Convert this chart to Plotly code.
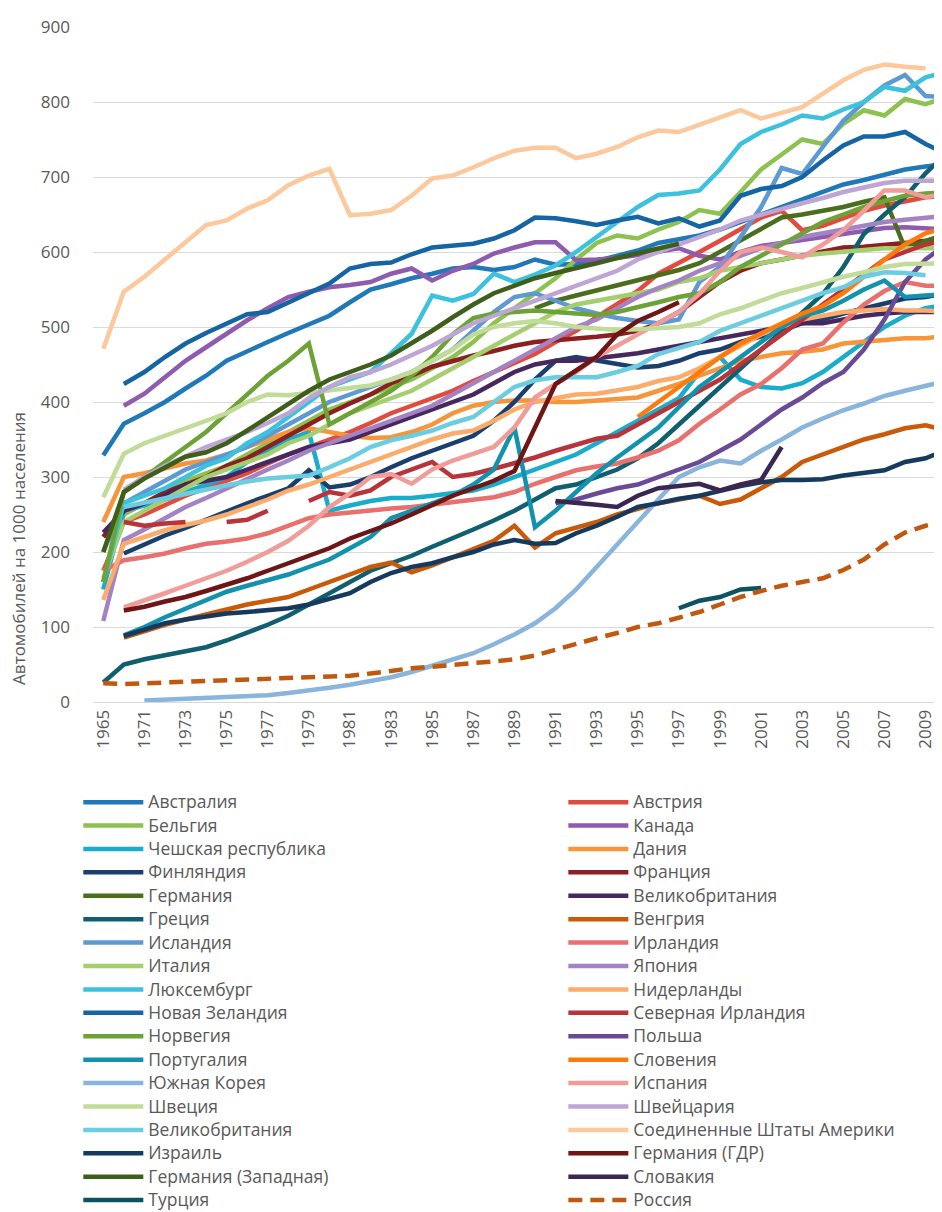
import plotly.graph_objects as go

# category axis: 1965, then 1970..2010
YEARS = ["1965"] + [str(y) for y in range(1970, 2011)]
TICK_YEARS = ["1965"] + [str(y) for y in range(1971, 2010, 2)]

N = None

AUSTRALIA = [329, 371, 385, 400, 418, 435, 455, 468, 480, 492, 504, 515, 533, 550, 557, 565, 571, 578, 580, 576, 580,
             590, 583, 584, 588, 595, 602, 612, 617, 622, 630, 640, 650, 660, 670, 680, 690, 696, 703, 710, 714, 717]
AUSTRIA = [175, 240, 250, 262, 275, 285, 295, 305, 318, 330, 340, 350, 360, 372, 385, 395, 405, 415, 428, 440, 452,
           464, 480, 495, 513, 530, 548, 571, 585, 600, 615, 630, 646, 655, 629, 635, 645, 655, 662, 668, 673, 675]
BELGIUM = [160, 250, 265, 280, 295, 305, 315, 330, 345, 360, 375, 390, 400, 410, 420, 430, 445, 460, 480, 505, 525,
           545, 565, 590, 612, 622, 618, 630, 640, 656, 651, 680, 710, 730, 750, 744, 771, 789, 782, 804, 797, 806]
CANADA = [N, 395, 411, 433, 455, 473, 491, 509, 525, 540, 547, 553, 556, 560, 571, 578, 562, 575, 584, 598, 606,
          613, 613, 589, 590, 592, 596, 600, 605, 595, 590, 600, 608, 612, 616, 620, 624, 628, 632, 633, 632, 630]
CZECH = [150, 255, 262, 270, 280, 290, 300, 320, 335, 350, 360, 255, 262, 268, 272, 272, 275, 278, 282, 290, 300,
         310, 320, 330, 345, 360, 375, 390, 405, 440, 460, 430, 420, 418, 425, 440, 460, 480, 500, 515, 525, 530]
DENMARK = [240, 300, 305, 312, 318, 322, 330, 340, 350, 360, 365, 360, 355, 352, 353, 360, 370, 385, 395, 400, 402,
           402, 400, 400, 402, 404, 406, 415, 424, 435, 445, 455, 460, 465, 467, 470, 478, 480, 483, 485, 485, 488]
FINLAND = [N, 198, 210, 222, 232, 243, 255, 265, 275, 285, 309, 286, 290, 300, 313, 325, 335, 345, 355, 375, 400,
           430, 455, 460, 455, 450, 446, 448, 455, 465, 470, 480, 488, 495, 505, 510, 518, 525, 532, 538, 540, 545]
FRANCE = [220, 255, 265, 280, 290, 300, 315, 325, 340, 355, 370, 385, 398, 410, 425, 435, 447, 455, 462, 468, 475,
          480, 482, 484, 487, 490, 495, 505, 520, 540, 560, 575, 585, 590, 595, 600, 606, 607, 609, 612, 615, 620]
GERMANY = [N] * 21 + [525, 535, 542, 549, 555, 562, 569, 576, 585, 600, 615, 630, 646, 650, 655, 660, 667, 673, 605,
                      615, 624]
UK_DARK = [226, 255, 265, 275, 290, 295, 300, 310, 320, 330, 340, 345, 350, 360, 370, 380, 390, 400, 410, 425, 440,
           450, 455, 455, 458, 462, 465, 470, 475, 480, 485, 490, 495, 500, 505, 505, 510, 515, 518, 520, 520, 520]
GREECE = [26, 50, 57, 62, 68, 73, 82, 92, 103, 115, 130, 145, 160, 175, 185, 195, 207, 218, 230, 242, 255,
          270, 285, 290, 300, 310, 325, 345, 370, 395, 420, 445, 470, 495, 520, 544, 580, 624, 650, 673, 705, 731]
HUNGARY = [N, 86, 95, 103, 110, 117, 123, 130, 135, 140, 150, 160, 170, 180, 186, 173, 182, 193, 205, 215, 235,
           206, 225, 233, 240, 250, 258, 265, 270, 275, 264, 270, 285, 300, 320, 330, 340, 350, 357, 365, 369, 362]
ICELAND = [200, 265, 280, 295, 310, 320, 330, 340, 355, 370, 385, 400, 410, 420, 430, 440, 455, 470, 495, 520, 540,
           545, 535, 525, 518, 512, 508, 505, 510, 560, 580, 620, 660, 712, 704, 740, 775, 800, 822, 836, 808, 806]
IRELAND = [175, 189, 193, 198, 205, 211, 214, 218, 225, 235, 245, 250, 253, 256, 258, 260, 263, 266, 270, 273, 280,
           291, 300, 309, 314, 318, 326, 335, 349, 371, 390, 410, 424, 445, 470, 478, 506, 530, 548, 560, 555, 555]
ITALY = [165, 240, 255, 270, 285, 300, 310, 320, 330, 345, 355, 370, 385, 395, 405, 415, 430, 445, 460, 475, 490,
         505, 520, 530, 535, 540, 545, 550, 560, 565, 575, 580, 585, 590, 595, 598, 600, 603, 605, 605, 605, 605]
JAPAN = [108, 216, 230, 245, 260, 272, 285, 298, 310, 322, 335, 345, 355, 365, 375, 385, 395, 410, 425, 440, 455,
         470, 485, 500, 510, 525, 540, 552, 562, 575, 585, 595, 605, 612, 620, 625, 630, 635, 640, 643, 645, 648]
LUXEMBOURG = [160, 265, 275, 285, 300, 315, 325, 345, 360, 380, 400, 420, 430, 440, 465, 491, 542, 535, 544, 571, 560,
              570, 582, 600, 620, 640, 660, 676, 678, 682, 710, 744, 760, 770, 782, 778, 790, 800, 820, 815, 833, 840]
NETHERLANDS = [136, 211, 220, 229, 236, 242, 250, 260, 270, 282, 290, 300, 310, 320, 330, 340, 350, 358, 362, 375, 390,
               400, 405, 410, 411, 415, 420, 428, 433, 445, 460, 475, 490, 500, 510, 515, 520, 522, 524, 522, 522, 520]
NEW_ZEALAND = [N, 424, 440, 460, 478, 492, 505, 517, 520, 533, 546, 558, 578, 584, 586, 597, 606, 609, 611, 618, 629,
               646, 645, 641, 636, 642, 647, 638, 645, 634, 642, 675, 684, 688, 700, 722, 742, 754, 754, 760, 744, 731]
N_IRELAND = [N, 240, 235, 238, 240, N, 240, 243, 255, N, 268, 280, 275, 282, 300, 310, 320, 300, 304, 311, 318,
             326, 335, 343, 351, 355, 370, 385, 400, 415, 430, 450, 470, 490, 510, 530, 550, 570, 590, 600, 610, 615]
NORWAY = [160, 280, 300, 320, 340, 360, 385, 410, 435, 455, 478, 370, 385, 400, 415, 435, 460, 490, 512, 518, 520,
          522, 520, 518, 516, 520, 526, 533, 540, 545, 560, 580, 595, 610, 625, 640, 650, 660, 668, 675, 678, 680]
POLAND = [N] * 22 + [265, 270, 278, 285, 290, 300, 310, 320, 335, 350, 370, 390, 406, 425, 440, 470, 510, 560,
                     590, 610]
PORTUGAL = [N, 89, 100, 113, 124, 135, 147, 155, 162, 170, 180, 190, 205, 220, 245, 255, 265, 275, 290, 310, 366,
            233, 255, 280, 305, 326, 346, 366, 393, 420, 440, 460, 480, 500, 515, 522, 535, 550, 562, 540, 542, 544]
SLOVENIA = [N] * 26 + [380, 400, 420, 440, 460, 478, 491, 505, 518, 528, 545, 567, 590, 610, 625, 633]
S_KOREA = [N, N, 2, 3, 4, 5, 6, 7, 9, 12, 15, 19, 23, 28, 33, 40, 48, 56, 65, 77, 90,
           105, 125, 150, 180, 210, 240, 268, 300, 313, 322, 318, 335, 350, 366, 378, 389, 398, 408, 415, 422, 428]
SPAIN = [N, 126, 135, 145, 155, 165, 175, 187, 200, 215, 235, 260, 278, 300, 304, 291, 310, 322, 331, 340, 366,
         406, 424, 440, 460, 475, 490, 505, 520, 544, 575, 600, 606, 600, 593, 610, 629, 655, 682, 682, 673, 678]
SWEDEN = [273, 331, 345, 355, 366, 375, 385, 400, 410, 409, 412, 415, 418, 422, 430, 440, 455, 470, 490, 500, 505,
          508, 505, 500, 498, 496, 497, 498, 500, 505, 517, 525, 535, 545, 552, 560, 567, 573, 580, 584, 584, 585]
SWITZERLAND = [N, 283, 300, 315, 328, 340, 350, 360, 372, 385, 405, 420, 433, 440, 450, 462, 475, 490, 505, 515, 525,
               535, 545, 555, 565, 575, 590, 600, 610, 620, 630, 642, 650, 658, 665, 672, 680, 686, 692, 695, 695, 695]
UK_LIGHT = [N, 260, 266, 272, 278, 284, 289, 294, 298, 300, 302, 313, 325, 340, 349, 355, 362, 372, 380, 400, 420,
            429, 433, 433, 433, 440, 448, 464, 472, 480, 495, 505, 515, 525, 535, 545, 553, 567, 573, 572, 569, N]
USA = [471, 547, 567, 590, 613, 636, 642, 658, 669, 689, 702, 711, 649, 651, 656, 675, 698, 702, 713, 725, 735,
       739, 739, 725, 731, 740, 753, 762, 760, 770, 780, 789, 778, 785, 793, 811, 829, 843, 850, 847, 845, N]
ISRAEL = [N, 88, 97, 105, 110, 114, 118, 120, 122, 125, 130, 137, 145, 160, 172, 180, 185, 193, 200, 210, 216,
          211, 212, 225, 235, 247, 260, 265, 271, 275, 282, 288, 293, 296, 296, 297, 302, 305, 309, 320, 325, 336]
GDR = [N, 122, 127, 134, 140, 148, 156, 165, 175, 185, 195, 205, 218, 228, 238, 250, 262, 275, 285, 295, 308,
       366, 424, 442, 460, 490, 508, 520, 533] + [N] * 13
W_GERMANY = [200, 280, 298, 313, 327, 333, 345, 362, 380, 398, 415, 430, 440, 450, 462, 478, 495, 513, 530, 545, 555,
             565, 572, 578, 585, 592, 598, 605, 611] + [N] * 13
SLOVAKIA = [N] * 22 + [268, 266, 263, 260, 275, 285, 288, 291, 282, 290, 296, 340] + [N] * 8
TURKEY = [N] * 28 + [125, 135, 140, 150, 152] + [N] * 9
RUSSIA = [25, 24, 25, 26, 27, 28, 28, 29, 30, 31, 32, 33, 35, 38, 42, 45, 47, 50, 52, 54, 57,
          62, 70, 78, 85, 92, 100, 105, 112, 120, 130, 140, 148, 155, 160, 165, 176, 190, 210, 226, 235, 242]

SERIES = [
    ("Австралия", AUSTRALIA, "#1F78B8"),
    ("Австрия", AUSTRIA, "#E04B3E"),
    ("Бельгия", BELGIUM, "#8DC150"),
    ("Канада", CANADA, "#8E5BAE"),
    ("Чешская республика", CZECH, "#1AACCB"),
    ("Дания", DENMARK, "#F7953B"),
    ("Финляндия", FINLAND, "#1A3F6E"),
    ("Франция", FRANCE, "#8C1F1F"),
    ("Германия", GERMANY, "#4A6E1E"),
    ("Великобритания", UK_DARK, "#46285E"),
    ("Греция", GREECE, "#0F5F6E"),
    ("Венгрия", HUNGARY, "#C85A0A"),
    ("Исландия", ICELAND, "#5D9AD3"),
    ("Ирландия", IRELAND, "#E8706D"),
    ("Италия", ITALY, "#A5CE6E"),
    ("Япония", JAPAN, "#A483C3"),
    ("Люксембург", LUXEMBOURG, "#3CC1DE"),
    ("Нидерланды", NETHERLANDS, "#FBAC6B"),
    ("Новая Зеландия", NEW_ZEALAND, "#1565A4"),
    ("Северная Ирландия", N_IRELAND, "#B8333A"),
    ("Норвегия", NORWAY, "#6DA336"),
    ("Польша", POLAND, "#6A4A94"),
    ("Португалия", PORTUGAL, "#1392AE"),
    ("Словения", SLOVENIA, "#FF7A0A"),
    ("Южная Корея", S_KOREA, "#89B4DC"),
    ("Испания", SPAIN, "#F09C98"),
    ("Швеция", SWEDEN, "#C0DC98"),
    ("Швейцария", SWITZERLAND, "#BEA6D4"),
    ("Великобритания", UK_LIGHT, "#6CCCE0"),
    ("Соединенные Штаты Америки", USA, "#FEC89D"),
    ("Израиль", ISRAEL, "#163A5E"),
    ("Германия (ГДР)", GDR, "#6E1515"),
    ("Германия (Западная)", W_GERMANY, "#3E5E1B"),
    ("Словакия", SLOVAKIA, "#3B2652"),
    ("Турция", TURKEY, "#0C5362"),
    ("Россия", RUSSIA, "#C0590F"),
]

FONT = "Open Sans"
GREY = "#595959"

fig = go.Figure()
for i, (name, vals, color) in enumerate(SERIES):
    dash = "14px,8px" if name == "Россия" else "solid"
    fig.add_trace(go.Scatter(
        x=YEARS, y=vals, mode="lines",
        name=f'<span style="font-size:17.5px">{name}</span>',
        line=dict(color=color, width=4.5, dash=dash),
        # Excel fills the legend row by row: odd entries left, even entries right
        legend="legend" if i % 2 == 0 else "legend2",
    ))

fig.add_annotation(
    text="Автомобилей на 1000 населения",
    xref="paper", yref="paper", x=-0.0886, y=0.228,
    xanchor="center", yanchor="middle",
    textangle=-90, showarrow=False,
    font=dict(family=FONT, size=17, color=GREY),
)

legend_style = dict(
    orientation="v", xanchor="left", y=-0.1236, yanchor="top",
    itemwidth=60, font=dict(size=15.7, color=GREY),
    traceorder="normal", bgcolor="rgba(0,0,0,0)",
)

# the page body adds an 8px margin, so the figure is 8px smaller than the window
fig.update_layout(
    width=934, height=1204,
    margin=dict(l=85, r=0, t=19, b=510, autoexpand=False),
    paper_bgcolor="white", plot_bgcolor="white",
    font=dict(family=FONT, color=GREY),
    showlegend=True,
    legend=dict(x=-0.0173, **legend_style),
    legend2=dict(x=0.554, **legend_style),
    xaxis=dict(
        type="category", range=[-0.5, 40.8],
        tickmode="array", tickvals=TICK_YEARS, ticktext=TICK_YEARS,
        tickangle=-90, tickfont=dict(size=17, color=GREY),
        showgrid=False, showline=True, linecolor="#D9D9D9", ticks="",
    ),
    yaxis=dict(
        range=[0, 900], dtick=100, tickfont=dict(size=17, color=GREY),
        gridcolor="#D9D9D9", gridwidth=1, zeroline=False, ticks="",
        ticklabelstandoff=22,
    ),
)

fig.write_html("out.html")
